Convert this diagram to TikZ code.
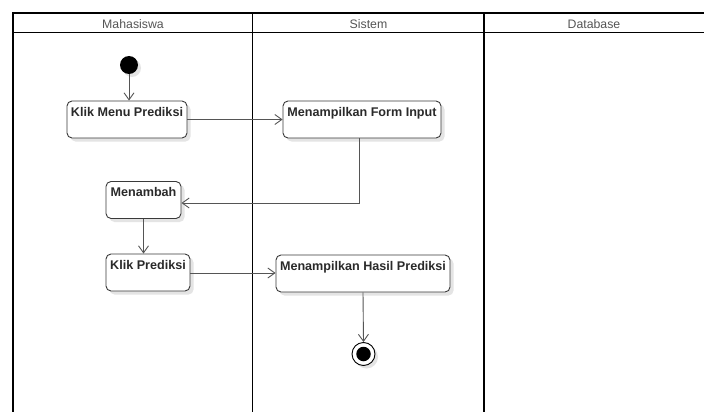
\documentclass[tikz,border=0pt]{standalone}
\usepackage{fontspec}
\setmainfont{Liberation Sans}
\usetikzlibrary{arrows.meta,shadows}

\definecolor{lanetext}{HTML}{555555}
\definecolor{boxline}{HTML}{3A3A3A}
\definecolor{boxtext}{HTML}{2A2A2A}
\definecolor{flow}{HTML}{555555}
\definecolor{shade}{HTML}{E4E4E4}

\tikzset{
  lane/.style={line width=1.6pt, black},
  lanehead/.style={font=\fontsize{12.3}{14}\selectfont, text=lanetext, anchor=base, inner sep=0pt},
  action/.style={draw=boxline, line width=0.9pt, fill=white, rounded corners=5pt,
    minimum height=37pt, inner xsep=2pt, inner ysep=0pt,
    text height=15pt, text depth=22pt, text=boxtext,
    font=\fontsize{12.6}{14}\selectfont\bfseries,
    drop shadow={shadow xshift=3.5pt, shadow yshift=-3.5pt, fill=shade, opacity=1}},
  startdot/.style={circle, fill=black, minimum size=18pt, inner sep=0pt,
    drop shadow={shadow xshift=3pt, shadow yshift=-3pt, fill=shade, opacity=1}},
  enddot/.style={circle, draw=black, line width=0.9pt, fill=white, minimum size=23pt, inner sep=0pt,
    drop shadow={shadow xshift=3pt, shadow yshift=-3pt, fill=shade, opacity=1}},
  flowline/.style={draw=flow, line width=0.9pt, -{Straight Barb[length=7pt,width=10pt]}},
}

\begin{document}
\begin{tikzpicture}[x=1pt, y=-1pt]
  \useasboundingbox (0,0) rectangle (704,412);
  \fill[white] (0,0) rectangle (704,412);

  % swimlane frame
  \draw[lane] (13,13.3) -- (704,13.3);
  \draw[lane] (13,32.7) -- (704,32.7);
  \draw[lane] (13,12.5) -- (13,412);
  \draw[lane] (252.5,12.5) -- (252.5,412);
  \draw[lane] (484,12.5) -- (484,412);

  \node[lanehead] (laneA) at (133,28.3) {Mahasiswa};
  \node[lanehead] (laneB) at (368.5,28.3) {Sistem};
  \node[lanehead] (laneC) at (594,28.3) {Database};

  % actions
  \node[startdot] (start) at (129,65) {};
  \node[action, minimum width=120pt] (kmp) at (127,119.5) {Klik Menu Prediksi};
  \node[action, minimum width=158pt] (mfi) at (362,119.5) {Menampilkan Form Input};
  \node[action, minimum width=75pt] (men) at (143.5,200) {Menambah};
  \node[action, minimum width=84pt] (kp) at (148,272.5) {Klik Prediksi};
  \node[action, minimum width=174pt] (mhp) at (363,273.5) {Menampilkan Hasil Prediksi};
  \node[enddot] (stop) at (363.5,354) {};
  \node[circle, fill=black, minimum size=14.5pt, inner sep=0pt] (stopcore) at (stop.center) {};

  % flows
  \coordinate (bend) at (359.5,203);
  \draw[flowline] (start) -- (start |- kmp.north);
  \draw[flowline] (kmp.east |- 0,119.5) -- (mfi.west |- 0,119.5);
  \draw[flowline] (mfi.south -| bend) -- (bend) -- (bend -| men.east);
  \draw[flowline] (men.south) -- (kp.north -| men.south);
  \draw[flowline] (kp.east |- 0,273) -- (mhp.west |- 0,273);
  \draw[flowline] (mhp.south) -- (stop.north);
\end{tikzpicture}
\end{document}
